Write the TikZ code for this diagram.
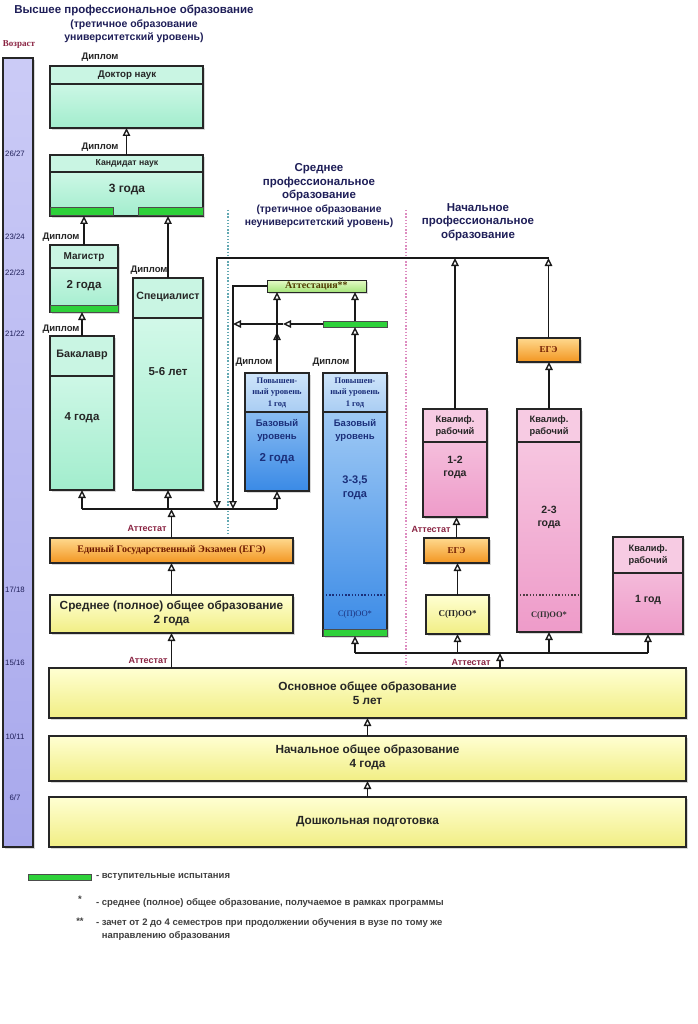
\documentclass[tikz,border=0pt]{standalone}
\usepackage{fontspec}
\setmainfont{Liberation Sans}
\newfontfamily\srf{Liberation Serif}
\usetikzlibrary{arrows.meta,shadows,calc}
\definecolor{cNavy}{HTML}{1E1E58}
\definecolor{cMint1}{HTML}{DDFBEF}
\definecolor{cMint2}{HTML}{A2EDCD}
\definecolor{cMintH}{HTML}{C9F5E3}
\definecolor{cBlue1}{HTML}{B0D4F7}
\definecolor{cBlue2}{HTML}{3A8AE6}
\definecolor{cBlueH1}{HTML}{CFE5FA}
\definecolor{cBlueH2}{HTML}{A9CDF3}
\definecolor{cPink1}{HTML}{F8CDE4}
\definecolor{cPink2}{HTML}{EE9BC9}
\definecolor{cPinkH}{HTML}{F7CBE3}
\definecolor{cYel1}{HTML}{FFFFD2}
\definecolor{cYel2}{HTML}{F1EE84}
\definecolor{cOra1}{HTML}{FFD98E}
\definecolor{cOra2}{HTML}{F29520}
\definecolor{cAtt1}{HTML}{E6FBC8}
\definecolor{cAtt2}{HTML}{A5E47A}
\definecolor{cGrn}{HTML}{2ED13A}
\definecolor{cAge1}{HTML}{CBCBF6}
\definecolor{cAge2}{HTML}{A8A8EC}
\definecolor{cAttT}{HTML}{8A2342}
\definecolor{cEgeT}{HTML}{6E1A00}
\definecolor{cOlive}{HTML}{4E3A00}
\definecolor{cBlueT}{HTML}{1B2F7A}
\definecolor{cTeal}{HTML}{62A8B2}
\definecolor{cPinkD}{HTML}{DD8CC0}
\newcommand\fsz[2]{\fontsize{#1}{#2}\selectfont}
\newcommand\ebox[6]{\node[#6,minimum width={(#4-#2)*1pt},minimum height={(#5-#3)*1pt}] (#1) at ({(#2+#4)/2},{(#3+#5)/2}) {};}
\begin{document}
\begin{tikzpicture}[x=1pt,y=-1pt,
  bxd/.style={draw=black!85,line width=1.5pt,inner sep=0pt,outer sep=0pt},
  shd/.style={drop shadow={shadow xshift=2pt,shadow yshift=-2pt,opacity=.3}},
  mintbody/.style={bxd,shd,top color=cMint1,bottom color=cMint2},
  minthead/.style={bxd,fill=cMintH},
  bluebody/.style={bxd,shd,top color=cBlue1,bottom color=cBlue2},
  bluehead/.style={bxd,top color=cBlueH1,bottom color=cBlueH2},
  pinkbody/.style={bxd,shd,top color=cPink1,bottom color=cPink2},
  pinkhead/.style={bxd,fill=cPinkH},
  yelbox/.style={bxd,shd,top color=cYel1,bottom color=cYel2},
  orabox/.style={bxd,shd,top color=cOra1,bottom color=cOra2},
  attbox/.style={bxd,shd,line width=1pt,top color=cAtt1,bottom color=cAtt2},
  grnbar/.style={draw=black!70,line width=1pt,fill=cGrn,inner sep=0pt,outer sep=0pt},
  agebox/.style={bxd,shd,top color=cAge1,bottom color=cAge2},
  tx/.style={inner sep=0pt,outer sep=0pt,align=center,text=black!85},
  bt/.style={tx,font=\fsz{11.5}{13.5}\bfseries},
  big/.style={tx,font=\fsz{11.8}{13.5}\bfseries},
  dip/.style={tx,font=\fsz{9.5}{10}\bfseries},
  atl/.style={tx,font=\fsz{9}{10}\bfseries,text=cAttT},
  agel/.style={tx,font=\fsz{7.8}{8},text=cNavy},
  hd/.style={tx,font=\fsz{11.5}{13.5}\bfseries,text=cNavy},
  sr/.style={tx,font=\srf\fsz{9}{10}\bfseries,text=cEgeT},
  srb/.style={tx,font=\srf\fsz{8.5}{11.5}\bfseries,text=cBlueT},
  lgt/.style={tx,font=\fsz{9.5}{13}\bfseries,text=black!75,align=left},
  ln/.style={line width=1.9pt,draw=black!90},
  arr/.style={ln,-{Triangle[open,length=8pt,width=7.5pt,line width=1.4pt]}},
  sep/.style={line width=1.4pt,dash pattern=on 1.4pt off 1.8pt}
]
\useasboundingbox (0,0) rectangle (697,1024);
\fill[white] (0,0) rectangle (697,1024);

% headings
\node[hd] (t1) at (134,24) {Высшее профессиональное образование\\{\fsz{10.5}{13.5}(третичное образование}\\{\fsz{10.5}{13.5}университетский уровень)}};
\node[hd] (t2) at (319,196) {Среднее\\профессиональное\\образование\\{\fsz{10.3}{13.5}(третичное образование}\\{\fsz{10.3}{13.5}неуниверситетский уровень)}};
\node[hd] (t3) at (478,222) {Начальное\\профессиональное\\образование};

% separators
\draw[sep,cTeal] (228,210) -- (228,534);
\draw[sep,cPinkD] (406,210) -- (406,665);

% age bar
\node[tx,font=\srf\fsz{9}{10}\bfseries,text=cAttT] (vozr) at (19,45) {Возраст};
\ebox{age}{3}{58}{33}{847}{agebox}
\node[agel] (a1) at (15,154) {26/27};
\node[agel] (a2) at (15,237) {23/24};
\node[agel] (a3) at (15,273) {22/23};
\node[agel] (a4) at (15,334) {21/22};
\node[agel] (a5) at (15,590) {17/18};
\node[agel] (a6) at (15,663) {15/16};
\node[agel] (a7) at (15,737) {10/11};
\node[agel] (a8) at (15,798) {6/7};

% higher education
\ebox{dok}{50}{66}{203}{128}{mintbody}
\ebox{dokh}{50}{66}{203}{84}{minthead}
\node[tx,font=\fsz{9.7}{11}\bfseries] (dokt) at (127,75) {Доктор наук};
\node[dip] (d1) at (100,57) {Диплом};

\ebox{kand}{50}{155}{203}{216}{mintbody}
\ebox{kandh}{50}{155}{203}{172}{minthead}
\node[tx,font=\fsz{8.7}{10}\bfseries] (kandt) at (127,163.5) {Кандидат наук};
\node[tx,font=\fsz{12}{13}\bfseries] (kandy) at (127,190) {3 года};
\ebox{kg1}{50}{208}{113}{216}{grnbar}
\ebox{kg2}{138}{208}{203}{216}{grnbar}
\node[dip] (d2) at (100,147) {Диплом};

\ebox{mag}{50}{245}{118}{312}{mintbody}
\ebox{magh}{50}{245}{118}{268}{minthead}
\node[tx,font=\fsz{10}{11}\bfseries] (magt) at (84,257) {Магистр};
\node[bt] (magy) at (84,286) {2 года};
\ebox{mg}{50}{305}{118}{312}{grnbar}
\node[dip] (d3) at (61,237) {Диплом};

\ebox{bak}{50}{336}{114}{490}{mintbody}
\ebox{bakh}{50}{336}{114}{376}{minthead}
\node[tx,font=\fsz{10.8}{12}\bfseries] (bakt) at (82,355) {Бакалавр};
\node[bt] (baky) at (82,418) {4 года};
\node[dip] (d5) at (61,329) {Диплом};

\ebox{spec}{133}{278}{203}{490}{mintbody}
\ebox{spech}{133}{278}{203}{318}{minthead}
\node[tx,font=\fsz{10.6}{12}\bfseries] (spect) at (168,297) {Специалист};
\node[bt] (specy) at (168,372) {5-6 лет};
\node[dip] (d4) at (149,270) {Диплом};

% secondary professional
\ebox{att}{267}{280}{366}{292}{attbox}
\node[tx,font=\srf\fsz{10}{10}\bfseries,text=cOlive] (attt) at (316.5,286) {Аттестация**};
\ebox{gbar}{323}{321}{387}{327}{grnbar}

\ebox{bla}{245}{373}{309}{491}{bluebody}
\ebox{blah}{245}{373}{309}{412}{bluehead}
\node[srb] (blat) at (277,392.5) {Повышен-\\ный уровень\\1 год};
\node[tx,font=\fsz{9.5}{13}\bfseries,text=cBlueT] (blab) at (277,430.5) {Базовый\\уровень};
\node[tx,font=\fsz{11.5}{13}\bfseries,text=cBlueT] (blay) at (277,459) {2 года};
\node[dip] (d6) at (254,362) {Диплом};

\ebox{blb}{323}{373}{387}{636}{bluebody}
\ebox{blbh}{323}{373}{387}{412}{bluehead}
\node[srb] (blbt) at (355,392.5) {Повышен-\\ный уровень\\1 год};
\node[tx,font=\fsz{9.5}{13}\bfseries,text=cBlueT] (blbb) at (355,430.5) {Базовый\\уровень};
\node[tx,font=\fsz{11}{14}\bfseries,text=cBlueT] (blby) at (355,488) {3-3,5\\года};
\draw[sep,line width=1.2pt,cBlueT] (326,595) -- (384,595);
\node[srb,font=\srf\fsz{8.5}{10}] (blbs) at (355,614) {С(П)ОО*};
\ebox{bg}{323}{629}{387}{636}{grnbar}
\node[dip] (d7) at (331,362) {Диплом};

% initial professional
\ebox{egr}{517}{338}{580}{362}{orabox}
\node[sr] (egrt) at (548.5,350) {ЕГЭ};

\ebox{kva}{423}{409}{487}{517}{pinkbody}
\ebox{kvah}{423}{409}{487}{442}{pinkhead}
\node[tx,font=\fsz{9.3}{12}\bfseries] (kvat) at (455,426) {Квалиф.\\рабочий};
\node[tx,font=\fsz{10.5}{13}\bfseries] (kvay) at (455,467.5) {1-2\\года};

\ebox{kvb}{517}{409}{581}{632}{pinkbody}
\ebox{kvbh}{517}{409}{581}{442}{pinkhead}
\node[tx,font=\fsz{9.3}{12}\bfseries] (kvbt) at (549,426) {Квалиф.\\рабочий};
\node[tx,font=\fsz{10.5}{13}\bfseries] (kvby) at (549,517) {2-3\\года};
\draw[sep,line width=1.2pt,black!80!magenta] (520,595) -- (578,595);
\node[tx,font=\srf\fsz{8.5}{10}\bfseries,text=black!80] (kvbs) at (549,615) {С(П)ОО*};

\ebox{kvc}{613}{537}{683}{634}{pinkbody}
\ebox{kvch}{613}{537}{683}{573}{pinkhead}
\node[tx,font=\fsz{9.3}{12}\bfseries] (kvct) at (648,555) {Квалиф.\\рабочий};
\node[tx,font=\fsz{10.5}{13}\bfseries] (kvcy) at (648,600) {1 год};

\ebox{egb}{424}{538}{489}{563}{orabox}
\node[sr] (egbt) at (456.5,550.5) {ЕГЭ};
\ebox{spoo}{426}{595}{489}{634}{yelbox}
\node[tx,font=\srf\fsz{9}{10}\bfseries] (spoot) at (457.5,614.5) {С(П)ОО*};
\node[atl] (at3) at (431,529) {Аттестат};

% general education
\ebox{egl}{50}{538}{293}{563}{orabox}
\node[sr,font=\srf\fsz{10}{10}\bfseries] (eglt) at (171.5,550.5) {Единый Государственный Экзамен (ЕГЭ)};
\node[atl] (at1) at (147,528) {Аттестат};
\ebox{sred}{50}{595}{293}{633}{yelbox}
\node[big] (sredt) at (171.5,613.5) {Среднее (полное) общее образование\\2 года};
\node[atl] (at2) at (148,660) {Аттестат};
\ebox{osn}{49}{668}{686}{718}{yelbox}
\node[big] (osnt) at (367.5,693) {Основное общее образование\\5 лет};
\node[atl] (at4) at (471,662) {Аттестат};
\ebox{nach}{49}{736}{686}{781}{yelbox}
\node[big] (nacht) at (367.5,757.5) {Начальное общее образование\\4 года};
\ebox{dosh}{49}{797}{686}{847}{yelbox}
\node[big] (dosht) at (367.5,822) {Дошкольная подготовка};

% coordinates
\coordinate (busA) at (0,509);
\coordinate (busB) at (0,653);
\coordinate (topL) at (217,258);
\coordinate (vB) at (233,509);
\coordinate (hM) at (283,324);
\coordinate (hL) at (233,324);
\coordinate (upM) at (0,332);
\coordinate (osnR) at (500,668);

% connectors higher
\draw[arr] (kand.north) -- (dok.south);
\draw[arr] (mag.north) -- (kand.south -| mag.north);
\draw[arr] (spec.north) -- (kand.south -| spec.north);
\draw[arr] (bak.north) -- (mag.south -| bak.north);

% bus A
\draw[ln] (bak.south |- busA) -- (bla.south |- busA);
\draw[arr] (bak.south |- busA) -- (bak.south);
\draw[arr] (spec.south |- busA) -- (spec.south);
\draw[arr] (bla.south |- busA) -- (bla.south);
\draw[arr] (egl.north) -- (egl.north |- busA);

% top line from initial professional
\draw[arr] (kva.north) -- (kva.north |- topL);
\draw[arr] (egr.north) -- (egr.north |- topL);
\draw[arr] (egr.north |- topL) -- (topL) -- (topL |- busA);
\draw[arr] (kvb.north) -- (egr.south -| kvb.north);

% secondary professional links
\draw[arr] (att.west) -| (vB);
\draw[arr] (bla.north) -- (bla.north |- upM);
\draw[arr] (bla.north) -- (att.south -| bla.north);
\draw[arr] (blb.north) -- (gbar.south);
\draw[arr] (gbar.north) -- (att.south -| gbar.north);
\draw[arr] (gbar.west) -- (hM);
\draw[arr] (hM) -- (hL);

% initial professional links
\draw[arr] (spoo.north) -- (egb.south -| spoo.north);
\draw[arr] (egb.north) -- (kva.south -| egb.north);

% bus B
\draw[ln] (blb.south |- busB) -- (kvc.south |- busB);
\draw[arr] (blb.south |- busB) -- (blb.south);
\draw[arr] (spoo.south |- busB) -- (spoo.south);
\draw[arr] (kvb.south |- busB) -- (kvb.south);
\draw[arr] (kvc.south |- busB) -- (kvc.south);
\draw[arr] (osnR) -- (osnR |- busB);

% general links
\draw[arr] (sred.north) -- (egl.south -| sred.north);
\draw[arr] (sred.south |- osn.north) -- (sred.south);
\draw[arr] (nach.north) -- (osn.south);
\draw[arr] (dosh.north) -- (nach.south);

% legend
\ebox{lg}{28}{874}{91}{880}{grnbar}
\node[lgt,anchor=west] (l1) at (96,877) {- вступительные испытания};
\node[lgt] (ls1) at (80,899) {*};
\node[lgt,anchor=west] (l2) at (96,903) {- среднее (полное) общее образование, получаемое в рамках программы};
\node[lgt] (ls2) at (80,921) {**};
\node[lgt,anchor=west] (l3) at (96,929.5) {- зачет от 2 до 4 семестров при продолжении обучения в вузе по тому же\\\hphantom{- }направлению образования};
\end{tikzpicture}
\end{document}
